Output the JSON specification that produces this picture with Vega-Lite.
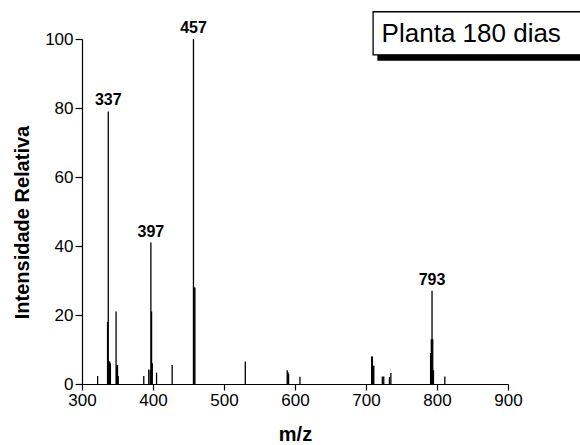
{
  "$schema": "https://vega.github.io/schema/vega-lite/v6.json",
  "width": 426,
  "height": 345,
  "autosize": "none",
  "padding": {"left": 82, "top": 39, "right": 72, "bottom": 61},
  "background": "white",
  "config": {
    "view": {"stroke": null},
    "font": "Liberation Sans",
    "axis": {"grid": false, "domainColor": "black", "tickColor": "black", "labelColor": "black", "titleColor": "black", "domainWidth": 1.2, "tickWidth": 1.2, "labelFont": "Liberation Sans", "titleFont": "Liberation Sans"}
  },
  "datasets": {
    "peaks": [
      {"mz": 322, "intensity": 2.3},
      {"mz": 336, "intensity": 18},
      {"mz": 337, "intensity": 79, "label": "337"},
      {"mz": 338, "intensity": 6.5},
      {"mz": 339, "intensity": 6.5},
      {"mz": 340, "intensity": 6},
      {"mz": 348, "intensity": 21},
      {"mz": 349, "intensity": 5.5},
      {"mz": 350, "intensity": 5.5},
      {"mz": 351, "intensity": 2.3},
      {"mz": 387, "intensity": 2.3},
      {"mz": 394, "intensity": 4.2},
      {"mz": 396, "intensity": 4},
      {"mz": 397, "intensity": 41, "label": "397"},
      {"mz": 398, "intensity": 21},
      {"mz": 399, "intensity": 6},
      {"mz": 405, "intensity": 3.3},
      {"mz": 427, "intensity": 5.5},
      {"mz": 457, "intensity": 100, "label": "457"},
      {"mz": 458, "intensity": 28},
      {"mz": 459, "intensity": 28},
      {"mz": 530, "intensity": 6.5},
      {"mz": 589, "intensity": 4},
      {"mz": 590, "intensity": 3.5},
      {"mz": 591, "intensity": 3},
      {"mz": 607, "intensity": 2.1},
      {"mz": 708, "intensity": 8},
      {"mz": 709, "intensity": 8},
      {"mz": 710, "intensity": 5.3},
      {"mz": 711, "intensity": 5.3},
      {"mz": 723, "intensity": 2.2},
      {"mz": 725, "intensity": 2.2},
      {"mz": 733, "intensity": 2},
      {"mz": 735, "intensity": 3.2},
      {"mz": 791, "intensity": 9},
      {"mz": 792, "intensity": 13},
      {"mz": 793, "intensity": 27, "label": "793"},
      {"mz": 794, "intensity": 13},
      {"mz": 795, "intensity": 4},
      {"mz": 811, "intensity": 2.2}
    ],
    "legend": [{"text": "Planta 180 dias"}]
  },
  "layer": [
    {
      "data": {"name": "peaks"},
      "mark": {"type": "rule", "color": "black", "strokeWidth": 1.3},
      "encoding": {
        "x": {
          "field": "mz", "type": "quantitative",
          "scale": {"domain": [300, 900], "nice": false, "zero": false},
          "axis": {
            "title": "m/z", "titleFontSize": 20, "titleFontWeight": "bold", "titlePadding": 16,
            "values": [300, 350, 400, 450, 500, 550, 600, 650, 700, 750, 800, 850, 900],
            "labelExpr": "datum.value % 100 === 0 ? datum.label : ''",
            "labelFontSize": 17, "labelPadding": 2, "labelFlush": false,
            "tickSize": {"condition": {"test": "datum.value % 100 === 0", "value": 6}, "value": 4}
          }
        },
        "y": {
          "field": "intensity", "type": "quantitative",
          "scale": {"domain": [0, 100], "nice": false},
          "axis": {
            "title": "Intensidade Relativa", "titleFontSize": 20, "titleFontWeight": "bold", "titlePadding": 12, "titleY": 183,
            "values": [0, 10, 20, 30, 40, 50, 60, 70, 80, 90, 100],
            "labelExpr": "datum.value % 20 === 0 ? datum.label : ''",
            "labelFontSize": 17, "labelPadding": 2, "labelFlush": false,
            "tickSize": {"condition": {"test": "datum.value % 20 === 0", "value": 7}, "value": 4}
          }
        },
        "y2": {"datum": 0}
      }
    },
    {
      "data": {"name": "peaks"},
      "transform": [{"filter": "datum.label != null"}],
      "mark": {"type": "text", "font": "Liberation Sans", "fontWeight": "bold", "fontSize": 16, "baseline": "alphabetic", "align": "center", "dy": -6, "color": "black"},
      "encoding": {
        "x": {"field": "mz", "type": "quantitative"},
        "y": {"field": "intensity", "type": "quantitative"},
        "text": {"field": "label"}
      }
    },
    {
      "data": {"name": "legend"},
      "mark": {"type": "rect", "color": "black"},
      "encoding": {
        "x": {"datum": 716},
        "x2": {"datum": 1060},
        "y": {"datum": 93.7},
        "y2": {"datum": 106.4}
      }
    },
    {
      "data": {"name": "legend"},
      "mark": {"type": "rect", "fill": "white", "stroke": "black", "strokeWidth": 1.3},
      "encoding": {
        "x": {"datum": 710},
        "x2": {"datum": 1050},
        "y": {"datum": 95.4},
        "y2": {"datum": 107.9}
      }
    },
    {
      "data": {"name": "legend"},
      "mark": {"type": "text", "font": "Liberation Sans", "fontSize": 26, "align": "left", "baseline": "alphabetic", "color": "black"},
      "encoding": {
        "x": {"datum": 722},
        "y": {"datum": 99.2},
        "text": {"field": "text"}
      }
    }
  ]
}
